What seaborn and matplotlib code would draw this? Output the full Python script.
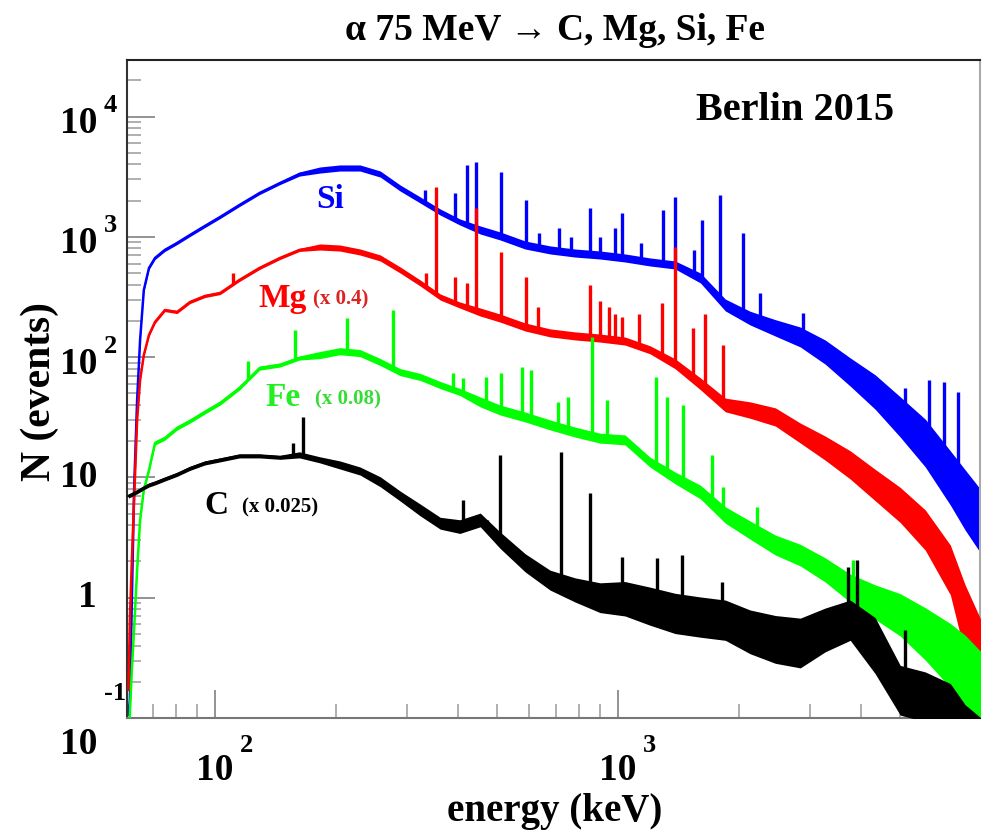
import numpy as np
import pandas as pd
import matplotlib
matplotlib.use("Agg")
import matplotlib.pyplot as plt
import seaborn as sns
from matplotlib.ticker import FixedLocator, NullFormatter

# ---------------- data ----------------
energy = [61, 61.5, 62.2, 63, 64.1, 65.2, 66.6, 68.6, 71, 75.1, 80.5, 86.7, 94.4, 103,
          115, 129, 145, 162, 182, 204, 229, 257, 288, 323, 362, 405, 455, 510, 588,
          678, 782, 902, 1040, 1200, 1385, 1600, 1845, 2125, 2455, 2830, 3265, 3765,
          4340, 5010, 5780, 6670, 7260, 8050]

si_counts = [0.106, 0.141, 0.957, 7.86, 44.0, 139, 361, 551, 667, 778, 888, 1036, 1230,
             1462, 1838, 2312, 2800, 3325, 3590, 3733, 3733, 3325, 2545, 2023, 1607, 1328,
             1140, 1016, 855, 778, 733, 706, 667, 618, 583, 455, 271, 211, 175, 147, 110,
             75.2, 51.3, 31.8, 19.3, 9.89, 6.49, 4.02]
si_spread = [1.03, 1.03, 1.03, 1.03, 1.03, 1.03, 1.03, 1.03, 1.03, 1.03, 1.03, 1.03, 1.03,
             1.03, 1.03, 1.03, 1.03, 1.04, 1.06, 1.06, 1.06, 1.06, 1.06, 1.06, 1.06, 1.06,
             1.08, 1.08, 1.08, 1.08, 1.08, 1.08, 1.08, 1.08, 1.08, 1.10, 1.12, 1.14, 1.17,
             1.21, 1.26, 1.31, 1.39, 1.47, 1.58, 1.68, 1.78, 1.85]
si_peak_e = [332, 394, 422, 444, 513, 591, 637, 714, 764, 852, 902, 983, 1023, 1141, 1293,
             1385, 1544, 1616, 1791, 2043, 2251, 2879, 5155, 5911, 6443, 6980]
si_peak_n = [2450, 2330, 3950, 4170, 3450, 2023, 1080, 1190, 1000, 1740, 1000, 1190, 1580,
             890, 1671, 2140, 778, 1380, 2226, 1080, 340, 233, 55, 64.5, 62, 51]

mg_counts = [0.171, 0.653, 2.06, 6.49, 30.0, 64.5, 104, 153, 196, 246, 237, 287, 322, 341,
             438, 551, 667, 778, 823, 807, 748, 667, 530, 413, 316, 271, 237, 211, 178, 159,
             150, 144, 136, 115, 88, 60, 40.0, 36.3, 31.8, 23.4, 17.5, 12.7, 8.65, 5.90,
             3.65, 1.70, 0.653, 0.251]
mg_spread = [1.03, 1.03, 1.03, 1.03, 1.03, 1.03, 1.03, 1.03, 1.03, 1.03, 1.03, 1.03, 1.03,
             1.03, 1.03, 1.03, 1.03, 1.03, 1.06, 1.06, 1.06, 1.06, 1.06, 1.06, 1.06, 1.06,
             1.08, 1.08, 1.08, 1.08, 1.08, 1.08, 1.08, 1.08, 1.10, 1.12, 1.14, 1.17, 1.19,
             1.21, 1.26, 1.31, 1.35, 1.40, 1.47, 1.61, 1.95, 2.36]
mg_peak_e = [111, 334, 353, 394, 422, 444, 513, 591, 634, 852, 902, 950, 983, 1023, 1128,
             1286, 1385, 1535, 1644, 1822]
mg_peak_n = [500, 500, 2600, 463, 413, 1740, 748, 463, 261, 398, 290, 261, 230, 214, 230,
             284, 822, 175, 230, 126]

fe_counts = [0.05, 0.11, 0.25, 0.55, 1.7, 4.4, 7.9, 11.5, 19.3, 21.2, 25.7, 29.4, 35.0,
             41.5, 55.3, 81, 86, 98.3, 104, 112, 108, 91, 75, 68.4, 58.6, 51.3, 42.4, 36.3,
             31.8, 27.3, 23.8, 21.2, 20.5, 13.4, 9.9, 7.56, 4.87, 3.65, 2.74, 2.26, 1.70,
             1.20, 0.92, 0.72, 0.50, 0.33, 0.25, 0.17]
fe_spread = [1.04, 1.04, 1.04, 1.04, 1.04, 1.04, 1.04, 1.04, 1.04, 1.04, 1.04, 1.04, 1.04,
             1.04, 1.04, 1.04, 1.04, 1.04, 1.07, 1.07, 1.07, 1.07, 1.07, 1.07, 1.07, 1.07,
             1.10, 1.10, 1.10, 1.10, 1.10, 1.10, 1.10, 1.10, 1.12, 1.14, 1.17, 1.19, 1.21,
             1.23, 1.26, 1.31, 1.39, 1.50, 1.65, 1.85, 1.95, 2.0]
fe_peak_e = [121, 158, 213, 276, 390, 412, 470, 513, 578, 608, 710, 751, 862, 939, 1243,
             1323, 1450, 1711, 1822, 2213, 3830, 5213]
fe_peak_n = [92, 168, 211, 246, 73.8, 67, 68.4, 73.8, 82.8, 78.2, 42.4, 46.6, 147, 44, 68.4,
             46.6, 40, 15.4, 8.3, 5.67, 2.06, 0.54]

c_counts = [7.0, 7.1, 7.2, 7.4, 7.6, 7.86, 8.2, 8.65, 9.0, 9.7, 10.6, 11.9, 13.2, 14.0,
            15.1, 15.1, 14.7, 15.4, 14.0, 12.7, 11.3, 9.2, 7.0, 5.36, 4.16, 3.9, 4.43, 3.0,
            1.95, 1.4, 1.16, 1.0, 0.98, 0.85, 0.74, 0.69, 0.65, 0.52, 0.45, 0.42, 0.54,
            0.65, 0.40, 0.17, 0.15, 0.12, 0.08, 0.06]
c_spread = [1.04, 1.04, 1.04, 1.04, 1.04, 1.04, 1.04, 1.04, 1.04, 1.04, 1.04, 1.04, 1.04,
            1.04, 1.04, 1.04, 1.04, 1.06, 1.06, 1.08, 1.08, 1.10, 1.10, 1.12, 1.12, 1.14,
            1.14, 1.17, 1.19, 1.21, 1.26, 1.33, 1.39, 1.44, 1.47, 1.47, 1.47, 1.52, 1.58,
            1.61, 1.52, 1.47, 1.71, 1.61, 1.61, 1.61, 1.61, 1.61]
c_peak_e = [156, 165, 412, 473, 510, 722, 852, 1023, 1250, 1441, 1811, 3721, 3918, 5155]
c_peak_n = [19.3, 31.8, 6.49, 4.43, 15.4, 16.3, 7.4, 2.18, 2.14, 2.26, 1.35, 1.8, 2.06, 0.54]

series_names = ["Si", "Mg", "Fe", "C"]
series_colors = ["#0000ff", "#ff0000", "#00ff00", "#000000"]

y_tick_values = [0.1, 1, 10, 100, 1000, 10000]
y_tick_base = ["10", "1", "10", "10", "10", "10"]
y_tick_exp = ["-1", "", "", "2", "3", "4"]
x_tick_values = [100, 1000]
x_tick_base = ["10", "10"]
x_tick_exp = ["2", "3"]

# ---------------- style ----------------
sns.set_theme(style="white")
plt.rcParams["font.family"] = ["Liberation Serif", "DejaVu Serif"]
plt.rcParams["font.weight"] = "bold"
plt.rcParams["text.color"] = "black"

W, H = 983, 834
fig = plt.figure(figsize=(W / 100, H / 100), dpi=100)
ax = fig.add_axes([127 / W, 1 - 718 / H, (980 - 127) / W, (718 - 60) / H])

data = {
    "Si": (si_counts, si_spread, si_peak_e, si_peak_n),
    "Mg": (mg_counts, mg_spread, mg_peak_e, mg_peak_n),
    "Fe": (fe_counts, fe_spread, fe_peak_e, fe_peak_n),
    "C": (c_counts, c_spread, c_peak_e, c_peak_n),
}

e_arr = np.array(energy, dtype=float)
for k, (name, color) in enumerate(zip(series_names, series_colors)):
    counts, spread, pe, pn = data[name]
    counts = np.array(counts, dtype=float)
    spread = np.array(spread, dtype=float)
    z = 2 + k
    ax.fill_between(e_arr, counts / spread, counts * spread, color=color, lw=0, zorder=z)
    df = pd.DataFrame({"energy": e_arr, "counts": counts})
    sns.lineplot(data=df, x="energy", y="counts", color=color, estimator=None, sort=False,
                 linewidth=1.8, ax=ax, zorder=z)
    pe = np.array(pe, dtype=float)
    base = np.exp(np.interp(np.log(pe), np.log(e_arr), np.log(counts)))
    ax.vlines(pe, base, pn, color=color, lw=2.4, zorder=z)

ax.set_xscale("log")
ax.set_yscale("log")
ax.set_xlim(60.5, 7900)
ax.set_ylim(0.1, 29500)
ax.set_xlabel("")
ax.set_ylabel("")

ax.yaxis.set_major_locator(FixedLocator(y_tick_values))
ax.yaxis.set_major_formatter(NullFormatter())
y_minor = [m * d for d in [0.1, 1, 10, 100, 1000, 10000] for m in range(2, 10) if m * d < 29500]
ax.yaxis.set_minor_locator(FixedLocator(y_minor))
ax.yaxis.set_minor_formatter(NullFormatter())
ax.xaxis.set_major_locator(FixedLocator(x_tick_values))
ax.xaxis.set_major_formatter(NullFormatter())
x_minor = [m * d for d in [10, 100, 1000] for m in range(2, 10) if 60.5 < m * d < 7900]
ax.xaxis.set_minor_locator(FixedLocator(x_minor))
ax.xaxis.set_minor_formatter(NullFormatter())

ax.tick_params(axis="both", which="major", direction="in", length=20, width=1.3,
               color="#8a8a8a", left=True, bottom=True, top=False, right=False)
ax.tick_params(axis="both", which="minor", direction="in", length=10, width=1.1,
               color="#9a9a9a", left=True, bottom=True, top=False, right=False)

for side, col in [("left", "#333333"), ("top", "#222222"), ("bottom", "#777777"),
                  ("right", "#aaaaaa")]:
    ax.spines[side].set_color(col)
    ax.spines[side].set_linewidth(1.5)


def ptext(x, y, s, size, color="black", ha="center", va="center", **kw):
    fig.text(x / W, 1 - y / H, s, ha=ha, va=va, fontsize=size, color=color,
             fontweight="bold", **kw)


# tick labels in ROOT style: base number with a raised exponent
fig.canvas.draw()
for val, b, ex in zip(y_tick_values, y_tick_base, y_tick_exp):
    ypx = H - ax.transData.transform((100, val))[1]
    if ex:
        off_b, off_e = (7, -11) if ypx < 700 else (27, -25)
        ptext(97, ypx + off_b, b, 27, ha="right")
        ptext(104, ypx + off_e, ex, 19, ha="left")
    else:
        ptext(97, ypx, b, 27, ha="right")
for val, b, ex in zip(x_tick_values, x_tick_base, x_tick_exp):
    xpx = ax.transData.transform((val, 1))[0]
    ptext(xpx, 770, b, 27)
    ptext(xpx + 25, 745, ex, 19, ha="left")

ptext(555, 31, "α 75 MeV → C, Mg, Si, Fe", 27)
ptext(795, 110, "Berlin 2015", 29)
ptext(40, 392, "N (events)", 30, rotation=90)
ptext(555, 812, "energy (keV)", 28)

ptext(330, 200, "Si", 24, "#0000ff")
ptext(283, 298, "Mg", 24, "#ff0000")
ptext(341, 299, "(x 0.4)", 15, "#dd2222")
ptext(283, 398, "Fe", 24, "#22ee22")
ptext(348, 399, "(x 0.08)", 15, "#33dd33")
ptext(216, 505, "C", 24, "black")
ptext(280, 507, "(x 0.025)", 15, "black")

fig.savefig("out.png", dpi=100)
